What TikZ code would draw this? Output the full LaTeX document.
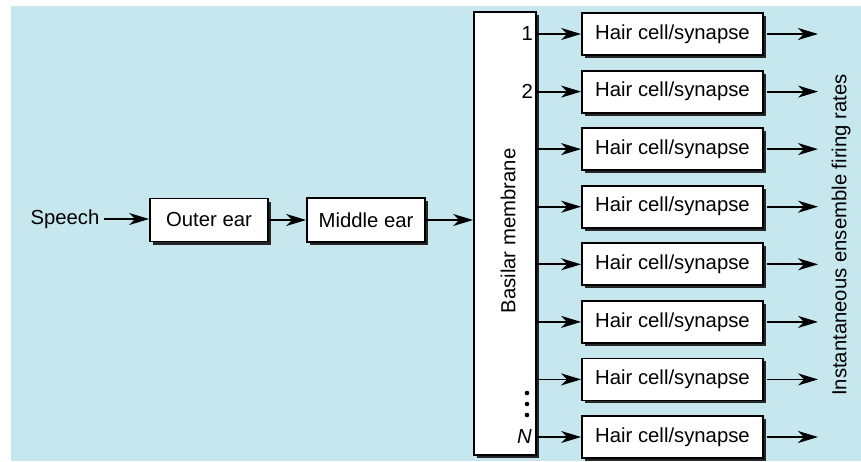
\documentclass[tikz,border=0pt]{standalone}
\usepackage{fontspec}
\setmainfont{Liberation Sans}
\usetikzlibrary{arrows.meta}
\definecolor{bgblue}{RGB}{199,231,239}
\begin{document}
\begin{tikzpicture}[x=1pt,y=-1pt,
  every node/.style={font=\fontsize{20.3}{23}\selectfont, inner sep=0pt},
  blk/.style={draw=black, line width=1.8pt, fill=white},
  shd/.style={fill=black!85},
  arr/.style={line width=1.8pt, -{Stealth[length=20pt,width=12pt,inset=6pt]}}]
\useasboundingbox (0,0) rectangle (861,461);
\fill[white] (0,0) rectangle (861,461);
\fill[bgblue] (11,6) rectangle (861,461);

% shadows
\fill[shd] (153,202) rectangle (271,245);
\fill[shd] (310,201) rectangle (428,245);
\fill[shd] (477,15) rectangle (539,458);
\foreach \y in {34,91.6,149.1,206.7,264.3,321.9,379.4,437}{
  \fill[shd] (585,\y-18) rectangle (766,\y+24);
}

\node (speech) at (65,219) {Speech};
\node[blk, minimum width=118pt, minimum height=43pt] (outer) at (209,220) {Outer ear};
\node[blk, minimum width=118pt, minimum height=44pt] (middle) at (366,220) {Middle ear};
\node[blk, minimum width=62pt, minimum height=443pt] (bm) at (505,233.5) {};
\node[rotate=90] (bmlabel) at (508,231) {Basilar membrane};

\coordinate (s0) at ([xshift=4pt]speech.east);
\draw[arr] (s0) -- (s0 -| outer.west);
\draw[arr] (outer.east) -- (middle.west);
\draw[arr] (middle.east) -- (middle.east -| bm.west);

\foreach \i/\y in {1/34,2/91.6,3/149.1,4/206.7,5/264.3,6/321.9,7/379.4,8/437}{
  \node[blk, minimum width=181pt, minimum height=42pt] (hc\i) at (672.5,\y) {Hair cell/synapse};
  \coordinate (o\i) at (818,\y);
  \draw[arr] (hc\i.west -| bm.east) -- (hc\i.west);
  \draw[arr] ([xshift=3pt]hc\i.east) -- (o\i);
}
\node[anchor=east] (l1) at (533,34) {1};
\node[anchor=east] (l2) at (533,91.6) {2};
\node[anchor=east] (lN) at (532,437) {\itshape N};
\foreach \d in {393,404,415}{\fill (527,\d) circle (2.3pt);}
\node[rotate=90] (out) at (841,235) {Instantaneous ensemble firing rates};
\end{tikzpicture}
\end{document}
